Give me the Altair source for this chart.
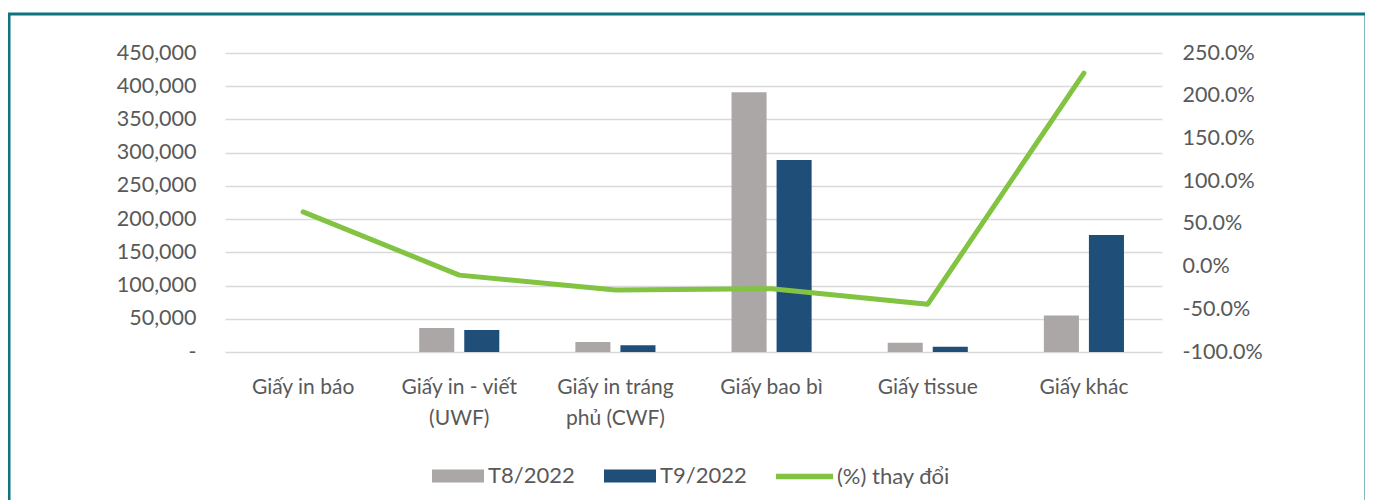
import altair as alt
import pandas as pd

categories = ["Giấy in báo", "Giấy in - viết\n(UWF)", "Giấy in tráng\nphủ (CWF)",
              "Giấy bao bì", "Giấy tissue", "Giấy khác"]
series = ["T8/2022", "T9/2022"]
t8_values = [60, 36000, 15000, 391000, 14000, 55000]
t9_values = [98, 33000, 10000, 289000, 8000, 176000]
pct_change = [0.64, -0.10, -0.275, -0.26, -0.44, 2.265]
line_name = "(%) thay đổi"

left_ticks = [0, 50000, 100000, 150000, 200000, 250000, 300000, 350000, 400000, 450000]
right_ticks = [-1.0, -0.5, 0.0, 0.5, 1.0, 1.5, 2.0, 2.5]

GREY = "#aba7a6"
NAVY = "#1f4e79"
GREEN = "#82c341"
TEXT = "#595959"
FONT = "Lato"

rows = []
for c, a, b in zip(categories, t8_values, t9_values):
    rows.append({"cat": c, "series": series[0], "value": a})
    rows.append({"cat": c, "series": series[1], "value": b})
bars_df = pd.DataFrame(rows)
line_df = pd.DataFrame({"cat": categories, "pct": pct_change, "name": [line_name] * len(categories)})

x_enc = alt.X(
    "cat:N", sort=categories, title=None,
    scale=alt.Scale(paddingInner=0, paddingOuter=0),
    axis=alt.Axis(labelAngle=0, ticks=False, domain=False, labelPadding=24,
                  labelFontSize=21, labelColor=TEXT, labelFont=FONT,
                  labelLineHeight=31, labelExpr="split(datum.label, '\\n')"),
)

bars = alt.Chart(bars_df).mark_bar().encode(
    x=x_enc,
    xOffset=alt.XOffset("series:N", sort=series,
                        scale=alt.Scale(paddingInner=0.222, paddingOuter=0.844)),
    y=alt.Y("value:Q", title=None,
            scale=alt.Scale(domain=[0, 450000], nice=False),
            axis=alt.Axis(values=left_ticks, ticks=False, domain=False,
                          labelPadding=29, labelFontSize=21.5, labelColor=TEXT, labelFont=FONT,
                          gridColor="#d9d9d9", gridWidth=1.5,
                          labelExpr="datum.value == 0 ? '-' : format(datum.value, ',')")),
    color=alt.Color("series:N", sort=series, title=None,
                    scale=alt.Scale(domain=series, range=[GREY, NAVY]),
                    legend=alt.Legend(orient="none", direction="horizontal",
                                      legendX=220, legendY=410, padding=0,
                                      symbolType="M-2,-0.5H2V0.5H-2Z",
                                      symbolSize=676, symbolStrokeWidth=0,
                                      labelOffset=17, columnPadding=29,
                                      labelFontSize=22, labelColor=TEXT, labelFont=FONT)),
)

line = alt.Chart(line_df).mark_line(strokeWidth=5, strokeCap="round", strokeJoin="round").encode(
    x=alt.X("cat:N", sort=categories),
    y=alt.Y("pct:Q", title=None,
            scale=alt.Scale(domain=[-1.0, 2.5], nice=False),
            axis=alt.Axis(orient="right", values=right_ticks, grid=False,
                          ticks=False, domain=False, labelPadding=20,
                          labelFontSize=21.5, labelColor=TEXT, labelFont=FONT,
                          labelExpr="replace(format(datum.value, '.1%'), '\u2212', '-')")),
    stroke=alt.Stroke("name:N", title=None,
                      scale=alt.Scale(domain=[line_name], range=[GREEN]),
                      legend=alt.Legend(orient="none", legendX=548, legendY=392, padding=0,
                                        symbolType="stroke", symbolSize=3249,
                                        symbolStrokeWidth=5.5, labelOffset=1,
                                        labelFontSize=22, labelColor=TEXT, labelFont=FONT)),
)

frame = alt.Chart(pd.DataFrame({"k": [0]})).mark_rect(
    fill="transparent", stroke="#0e7480", strokeWidth=3
).encode(x=alt.value(-216), x2=alt.value(1141), y=alt.value(-39), y2=alt.value(470))

chart = alt.layer(frame, bars, line).resolve_scale(
    y="independent"
).properties(
    width=937, height=299,
    padding={"left": 217, "top": 45, "right": 203, "bottom": 148},
    autosize=alt.AutoSizeParams(type="none"),
    background="white",
).configure_view(stroke=None)

chart.save("out.html", embed_options={"renderer": "svg", "actions": False})
